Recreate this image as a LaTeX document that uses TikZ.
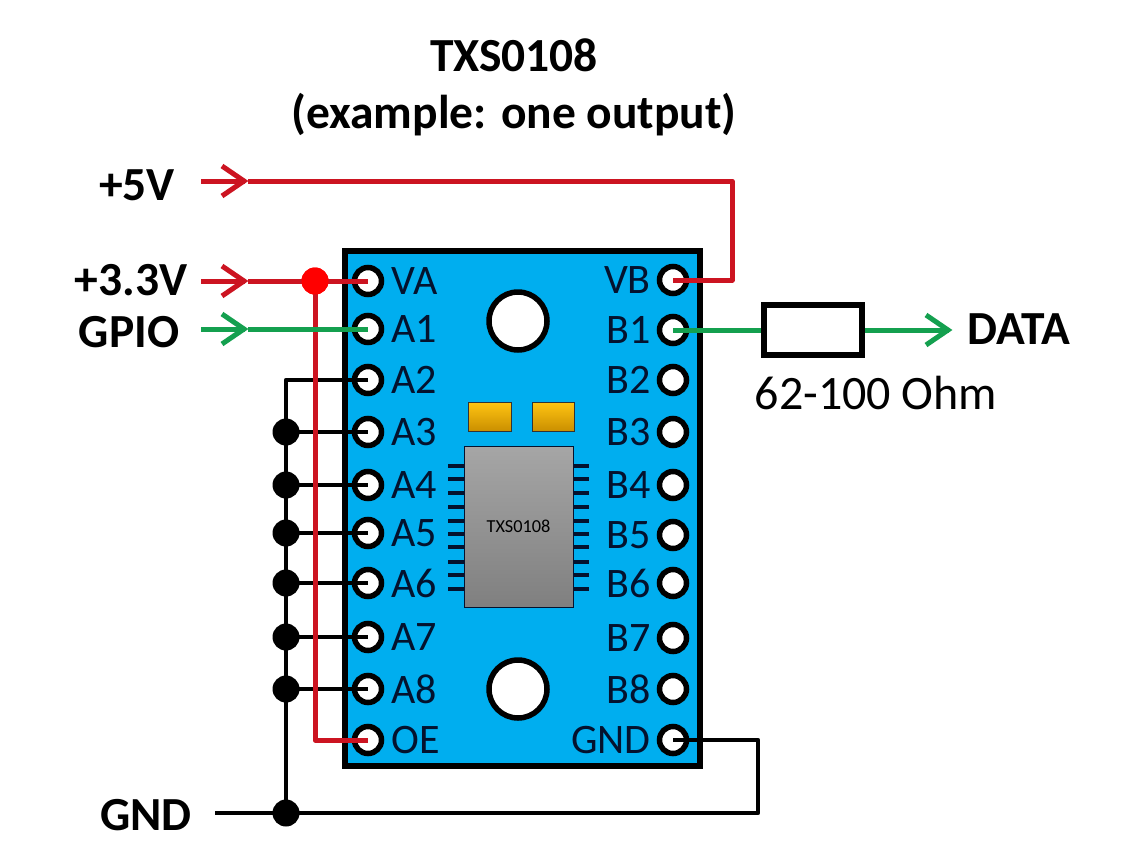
\documentclass[tikz,border=0pt]{standalone}
\usepackage{fontspec}
\setmainfont{Carlito}
\usetikzlibrary{arrows.meta}
\definecolor{wred}{HTML}{CC1421}
\definecolor{dotred}{HTML}{FF0000}
\definecolor{wgreen}{HTML}{14A04F}
\definecolor{boardblue}{HTML}{00AEEF}
\definecolor{pinink}{HTML}{04122E}
\definecolor{captop}{HTML}{FFC412}
\definecolor{capbot}{HTML}{C98E00}
\pgfdeclarearrow{
  name=OpenV,
  setup code={\pgfarrowssettipend{0pt}\pgfarrowssetlineend{-3pt}\pgfarrowssetbackend{-27pt}},
  drawing code={\pgfsetdash{}{0pt}\pgfsetlinewidth{5pt}\pgfsetbuttcap\pgfsetmiterjoin
    \pgfpathmoveto{\pgfpoint{-26pt}{15pt}}\pgfpathlineto{\pgfpoint{-4pt}{0pt}}\pgfpathlineto{\pgfpoint{-26pt}{-15pt}}\pgfusepathqstroke}
}
\tikzset{
  x=1pt,y=-1pt,
  pinhole/.style={circle,draw=black,line width=5.5pt,fill=white,minimum size=27pt,inner sep=0pt},
  pinL/.style={anchor=west,font=\fontsize{42}{42}\selectfont,text=pinink,inner sep=0pt},
  pinR/.style={anchor=east,font=\fontsize{42}{42}\selectfont,text=pinink,inner sep=0pt},
  biglabel/.style={font=\bfseries\fontsize{47.5}{47.5}\selectfont,inner sep=0pt},
  wire/.style={line width=5pt,line join=round},
  redwire/.style={wire,draw=wred},
  greenwire/.style={wire,draw=wgreen},
  blackwire/.style={line width=4.5pt,line join=round,draw=black},
  inarrow/.style={-OpenV},
  junc/.style={circle,fill=black,minimum size=27pt,inner sep=0pt},
  reddot/.style={circle,fill=dotred,minimum size=27pt,inner sep=0pt},
  capbox/.style={draw=black!80,line width=1pt,top color=captop,bottom color=capbot},
  lead/.style={line width=4.5pt,draw=pinink},
  hole/.style={circle,draw=black,line width=5.5pt,fill=white,minimum size=58pt,inner sep=0pt},
}
\begin{document}
\begin{tikzpicture}
\useasboundingbox[fill=white] (0,0) rectangle (1131,862);
% title
\node[biglabel] (title1) at (514,55) {TXS0108};
\node[biglabel] (title2) at (514,115) {(example: one output)};
% board
\node[draw=black,line width=6pt,fill=boardblue,minimum width=355pt,minimum height=515pt,inner sep=0pt] (board) at (522.5,508) {};
\node[hole] (hole1) at (518,321) {};
\node[hole] (hole2) at (518,689) {};
% caps
\node[capbox,minimum width=43pt,minimum height=29pt,inner sep=0pt] (cap1) at (489.5,417) {};
\node[capbox,minimum width=42pt,minimum height=29pt,inner sep=0pt] (cap2) at (553,417) {};
% chip leads
\foreach \yy in {466,479,493,507,521,534,547,562,575,589}{
  \draw[lead] (448,\yy) -- (464,\yy);
  \draw[lead] (573,\yy) -- (589,\yy);
}
\node[draw=pinink,line width=.8pt,top color=black!35,bottom color=black!50,minimum width=109pt,minimum height=161pt,inner sep=0pt,
  font=\fontsize{18.3}{18.3}\selectfont] (chip) at (518.5,526.5) {TXS0108};
% left pins
\foreach \nm/\yy in {VA/281,A1/329,A2/380,A3/432,A4/485,A5/533,A6/583,A7/637,A8/689,OE/740}{
  \node[pinhole] (p\nm) at (368,\yy) {};
  \node[pinL] (l\nm) at (391,\yy) {\nm};
}
% right pins
\foreach \nm/\yy in {VB/280,B1/330,B2/380,B3/432,B4/485,B5/535,B6/583,B7/638,B8/689,GND/740}{
  \node[pinhole] (p\nm) at (673,\yy) {};
  \node[pinR] (l\nm) at (651,\yy) {\nm};
}
% labels
\node[biglabel] (v5) at (137,185) {+5V};
\node[biglabel] (v33) at (131,280) {+3.3V};
\node[biglabel] (gpio) at (129,332) {GPIO};
\node[biglabel] (gnd) at (146,815) {GND};
\node[biglabel] (data) at (1019,329) {DATA};
\node[font=\fontsize{48}{48}\selectfont,inner sep=0pt] (ohm) at (876,393) {62-100 Ohm};
% coordinates
\coordinate (s5) at (201,181);
\coordinate (t5) at (248,181);
\coordinate (c5) at (732,181);
\coordinate (s33) at (201,281);
\coordinate (t33) at (248,281);
\coordinate (sg) at (201,329);
\coordinate (tg) at (248,329);
\coordinate (sgnd) at (215,813);
\coordinate (cgnd1) at (758,813);
\coordinate (bus) at (286,380);
\coordinate (tout) at (952,330);
% black wires
\node[junc] (j3) at (286,432) {};
\node[junc] (j4) at (286,485) {};
\node[junc] (j5) at (286,533) {};
\node[junc] (j6) at (286,583) {};
\node[junc] (j7) at (286,637) {};
\node[junc] (j8) at (286,689) {};
\node[junc] (jg) at (286,813) {};
\draw[blackwire] (pA2.center) -- (bus) -- (jg.center);
\foreach \nm/\j in {A3/j3,A4/j4,A5/j5,A6/j6,A7/j7,A8/j8}{
  \draw[blackwire] (\j.center) -- (p\nm.center);
}
\draw[blackwire] (sgnd) -- (cgnd1) |- (pGND.center);
% red wires
\node[reddot] (jr) at (315,281) {};
\draw[redwire] (jr.center) -- (315,740) -- (pOE.center);
\draw[redwire] (t33) -- (pVA.center);
\draw[redwire,inarrow] (s33) -- (t33);
\draw[redwire,inarrow] (s5) -- (t5);
\draw[redwire] (t5) -- (c5) |- (pVB.center);
\node[reddot] at (jr.center) {};
% green wires
\draw[greenwire] (tg) -- (pA1.center);
\draw[greenwire,inarrow] (sg) -- (tg);
\node[draw=black,line width=6pt,fill=white,minimum width=98pt,minimum height=50pt,inner sep=0pt] (res) at (813,330) {};
\draw[greenwire] (pB1.center) -- (res.west);
\draw[greenwire,inarrow] (res.east) -- (tout);
\end{tikzpicture}
\end{document}
